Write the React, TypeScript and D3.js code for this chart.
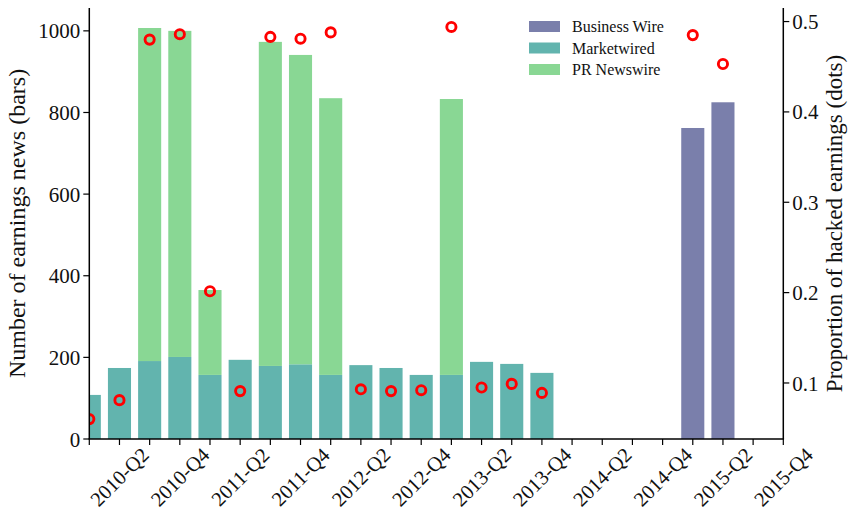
import React, { useEffect, useRef } from 'react';
import * as d3 from 'd3';

const quarters = [
  '2010-Q1', '2010-Q2', '2010-Q3', '2010-Q4',
  '2011-Q1', '2011-Q2', '2011-Q3', '2011-Q4',
  '2012-Q1', '2012-Q2', '2012-Q3', '2012-Q4',
  '2013-Q1', '2013-Q2', '2013-Q3', '2013-Q4',
  '2014-Q1', '2014-Q2', '2014-Q3', '2014-Q4',
  '2015-Q1', '2015-Q2', '2015-Q3', '2015-Q4',
];

const businessWire = [0, 0, 0, 0, 0, 0, 0, 0, 0, 0, 0, 0, 0, 0, 0, 0, 0, 0, 0, 0, 762, 825, 0, 0];
const marketwired = [108, 174, 191, 201, 157, 194, 179, 183, 157, 181, 174, 157, 157, 189, 184, 162, 0, 0, 0, 0, 0, 0, 0, 0];
const prTotal = [108, 174, 1007, 1000, 365, 194, 973, 941, 835, 181, 174, 157, 833, 189, 184, 162, 0, 0, 0, 0, 0, 0, 0, 0];
const prNewswire = prTotal.map((t, i) => Math.max(0, t - marketwired[i]));

const hacked: (number | null)[] = [
  0.060, 0.081, 0.480, 0.486, 0.2015, 0.091, 0.483, 0.481, 0.488, 0.093, 0.091, 0.092,
  0.494, 0.095, 0.099, 0.089, null, null, null, null, 0.485, 0.453, null, null,
];

const seriesNames = ['Business Wire', 'Marketwired', 'PR Newswire'];
const seriesColors = ['#7a7fab', '#62b4ae', '#89d794'];

const leftTicks = [0, 200, 400, 600, 800, 1000];
const rightTicks = [0.1, 0.2, 0.3, 0.4, 0.5];

const W = 852;
const H = 513;
const font = '"Liberation Serif", "DejaVu Serif", serif';

const App: React.FC = () => {
  const svgRef = useRef<SVGSVGElement>(null);

  useEffect(() => {
    if (!svgRef.current) return;
    const svg = d3.select(svgRef.current);
    svg.selectAll('*').remove();

    const left = 89.3, right = 783.3, top = 8, bottom = 439;

    const x = d3.scaleLinear().domain([0, quarters.length - 1]).range([left, right]);
    const y = d3.scaleLinear().domain([0, 1056]).range([bottom, top]);
    const y2 = d3.scaleLinear().domain([0.038, 0.515]).range([bottom, top]);
    const bw = (x(1) - x(0)) * 0.765;

    const rows = quarters.map((q, i) => ({
      q, i,
      'Business Wire': businessWire[i],
      'Marketwired': marketwired[i],
      'PR Newswire': prNewswire[i],
    }));
    const stack = d3.stack<any>().keys(seriesNames)(rows);

    svg.append('clipPath').attr('id', 'plot-clip')
      .append('rect')
      .attr('x', left).attr('y', top - 20)
      .attr('width', right - left).attr('height', bottom - top + 20);

    const plot = svg.append('g').attr('clip-path', 'url(#plot-clip)');

    stack.forEach((layer, k) => {
      plot.append('g')
        .attr('fill', seriesColors[k])
        .selectAll('rect')
        .data(layer.filter(d => d[1] - d[0] > 0))
        .join('rect')
        .attr('x', d => x(d.data.i) - bw / 2)
        .attr('width', bw)
        .attr('y', d => y(d[1]))
        .attr('height', d => y(d[0]) - y(d[1]));
    });

    plot.append('g')
      .selectAll('circle')
      .data(hacked.map((v, i) => ({ v, i })).filter(d => d.v !== null))
      .join('circle')
      .attr('cx', d => x(d.i))
      .attr('cy', d => y2(d.v as number))
      .attr('r', 4.6)
      .attr('fill', 'none')
      .attr('stroke', '#ff0000')
      .attr('stroke-width', 2.9);

    // spines
    const axisColor = '#000';
    svg.append('line').attr('x1', left).attr('x2', left).attr('y1', top).attr('y2', bottom)
      .attr('stroke', axisColor).attr('stroke-width', 1.5);
    svg.append('line').attr('x1', right).attr('x2', right).attr('y1', top).attr('y2', bottom)
      .attr('stroke', axisColor).attr('stroke-width', 1.5);
    svg.append('line').attr('x1', left - 0.75).attr('x2', right + 0.75).attr('y1', bottom).attr('y2', bottom)
      .attr('stroke', axisColor).attr('stroke-width', 1.5);

    // left ticks
    const gl = svg.append('g');
    leftTicks.forEach(t => {
      gl.append('line').attr('x1', left - 6).attr('x2', left).attr('y1', y(t)).attr('y2', y(t))
        .attr('stroke', axisColor).attr('stroke-width', 1.2);
      gl.append('text').attr('x', left - 9).attr('y', y(t)).attr('dy', '0.36em')
        .attr('text-anchor', 'end').attr('font-family', font).attr('font-size', 21)
        .attr('fill', '#111').text(String(t));
    });

    // right ticks
    const gr = svg.append('g');
    rightTicks.forEach(t => {
      gr.append('line').attr('x1', right).attr('x2', right + 6).attr('y1', y2(t)).attr('y2', y2(t))
        .attr('stroke', axisColor).attr('stroke-width', 1.2);
      gr.append('text').attr('x', right + 9).attr('y', y2(t)).attr('dy', '0.36em')
        .attr('text-anchor', 'start').attr('font-family', font).attr('font-size', 21)
        .attr('fill', '#111').text(d3.format('.1f')(t));
    });

    // bottom ticks
    const gb = svg.append('g');
    quarters.forEach((q, i) => {
      gb.append('line').attr('x1', x(i)).attr('x2', x(i)).attr('y1', bottom).attr('y2', bottom + 6)
        .attr('stroke', axisColor).attr('stroke-width', 1.2);
      if (i % 2 === 1) {
        gb.append('text')
          .attr('transform', `translate(${x(i)},${bottom + 38}) rotate(-45)`)
          .attr('text-anchor', 'middle').attr('dy', '0.35em')
          .attr('font-family', font).attr('font-size', 20.5).attr('fill', '#111')
          .text(q);
      }
    });

    // axis titles
    svg.append('text')
      .attr('transform', `translate(25,${(top + bottom) / 2}) rotate(-90)`)
      .attr('text-anchor', 'middle').attr('font-family', font).attr('font-size', 24)
      .attr('fill', '#111').text('Number of earnings news (bars)');
    svg.append('text')
      .attr('transform', `translate(842,${(top + bottom) / 2}) rotate(-90)`)
      .attr('text-anchor', 'middle').attr('font-family', font).attr('font-size', 23)
      .attr('fill', '#111').text('Proportion of hacked earnings (dots)');

    // legend
    const lg = svg.append('g').attr('transform', 'translate(529,21)');
    seriesNames.forEach((name, k) => {
      lg.append('rect').attr('x', 0).attr('y', k * 21.5).attr('width', 31).attr('height', 11)
        .attr('fill', seriesColors[k]);
      lg.append('text').attr('x', 43).attr('y', k * 21.5 + 5.5).attr('dy', '0.35em')
        .attr('font-family', font).attr('font-size', 16).attr('fill', '#111').text(name);
    });
  }, []);

  return (
    <svg
      ref={svgRef}
      width={W}
      height={H}
      style={{ position: 'absolute', left: 0, top: 0, background: '#fff' }}
    />
  );
};

export default App;
